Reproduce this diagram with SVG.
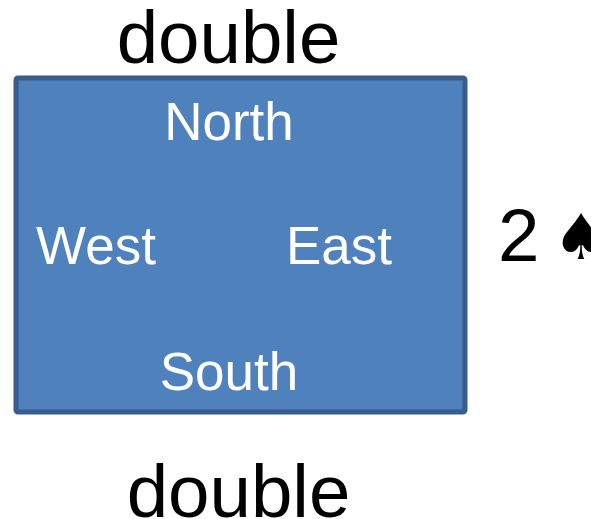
<svg xmlns="http://www.w3.org/2000/svg" width="591" height="519" viewBox="0 0 591 519">
<style>
.w{font-family:"Liberation Sans",Arial,sans-serif;font-size:53px;fill:#fff;text-anchor:middle}
.k{font-family:"Liberation Sans",Arial,sans-serif;font-size:74.5px;fill:#000;text-anchor:middle}
.s{font-family:"DejaVu Sans",sans-serif;font-size:63px;fill:#000;text-anchor:middle}
</style>
<rect width="591" height="519" fill="#fff"/>
<g id="board">
<rect x="16" y="78" width="449" height="334" rx="2" fill="#4f81bd" stroke="#385d8a" stroke-width="5"/>
<text class="w" x="229" y="140">North</text>
<text class="w" x="96" y="264">West</text>
<text class="w" x="339" y="264">East</text>
<text class="w" x="229" y="390">South</text>
</g>
<g id="top-call"><text class="k" x="228.500" y="62.500">double</text></g>
<g id="bottom-call"><text class="k" x="238.500" y="516.500">double</text></g>
<g id="contract"><text class="k" x="498" y="260.500" style="text-anchor:start">2</text><text class="s" x="581" y="259">♠</text></g>
</svg>
